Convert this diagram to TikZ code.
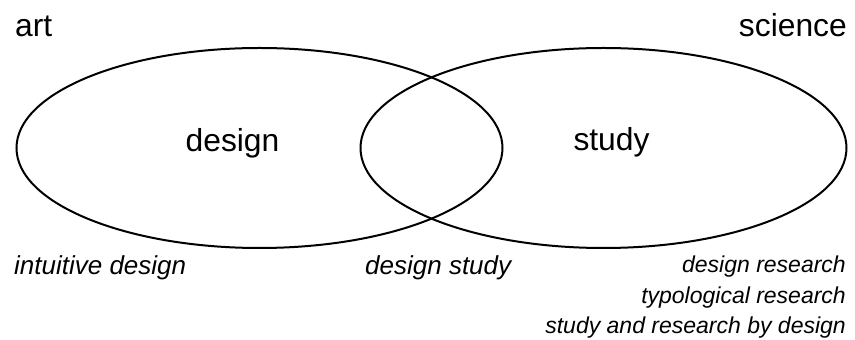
\documentclass[tikz,border=0pt]{standalone}
\usepackage{fontspec}
\setmainfont{Liberation Sans}
\usetikzlibrary{shapes.geometric}
\begin{document}
\begin{tikzpicture}[x=1pt,y=1pt,
  set/.style={ellipse, draw, line width=2pt, minimum width=486pt, minimum height=200pt, inner sep=0pt},
  big/.style={font=\fontsize{31.8}{31.8}\selectfont, inner sep=0pt},
  mid/.style={font=\fontsize{26}{26}\selectfont\itshape, inner sep=0pt},
  small/.style={font=\fontsize{23}{23}\selectfont\itshape, inner sep=0pt}]
\useasboundingbox (0,0) rectangle (855,340);
\node[set] (design) at (259.5,192) {};
\node[set] (study) at (603.5,192) {};
\node[big, anchor=base west] (art) at (15,303) {art};
\node[big, anchor=base east] (science) at (847,303) {science};
\node[big, anchor=base] (designlbl) at (232.5,188) {design};
\node[big, anchor=base] (studylbl) at (611.5,189) {study};
\node[mid, anchor=base west] (intuitive) at (14,65) {intuitive design};
\node[mid, anchor=base west] (dstudy) at (365,65) {design study};
\node[small, anchor=base east] (dres) at (846,67) {design research};
\node[small, anchor=base east] (typo) at (846,36) {typological research};
\node[small, anchor=base east] (sard) at (846,6) {study and research by design};
\end{tikzpicture}
\end{document}
